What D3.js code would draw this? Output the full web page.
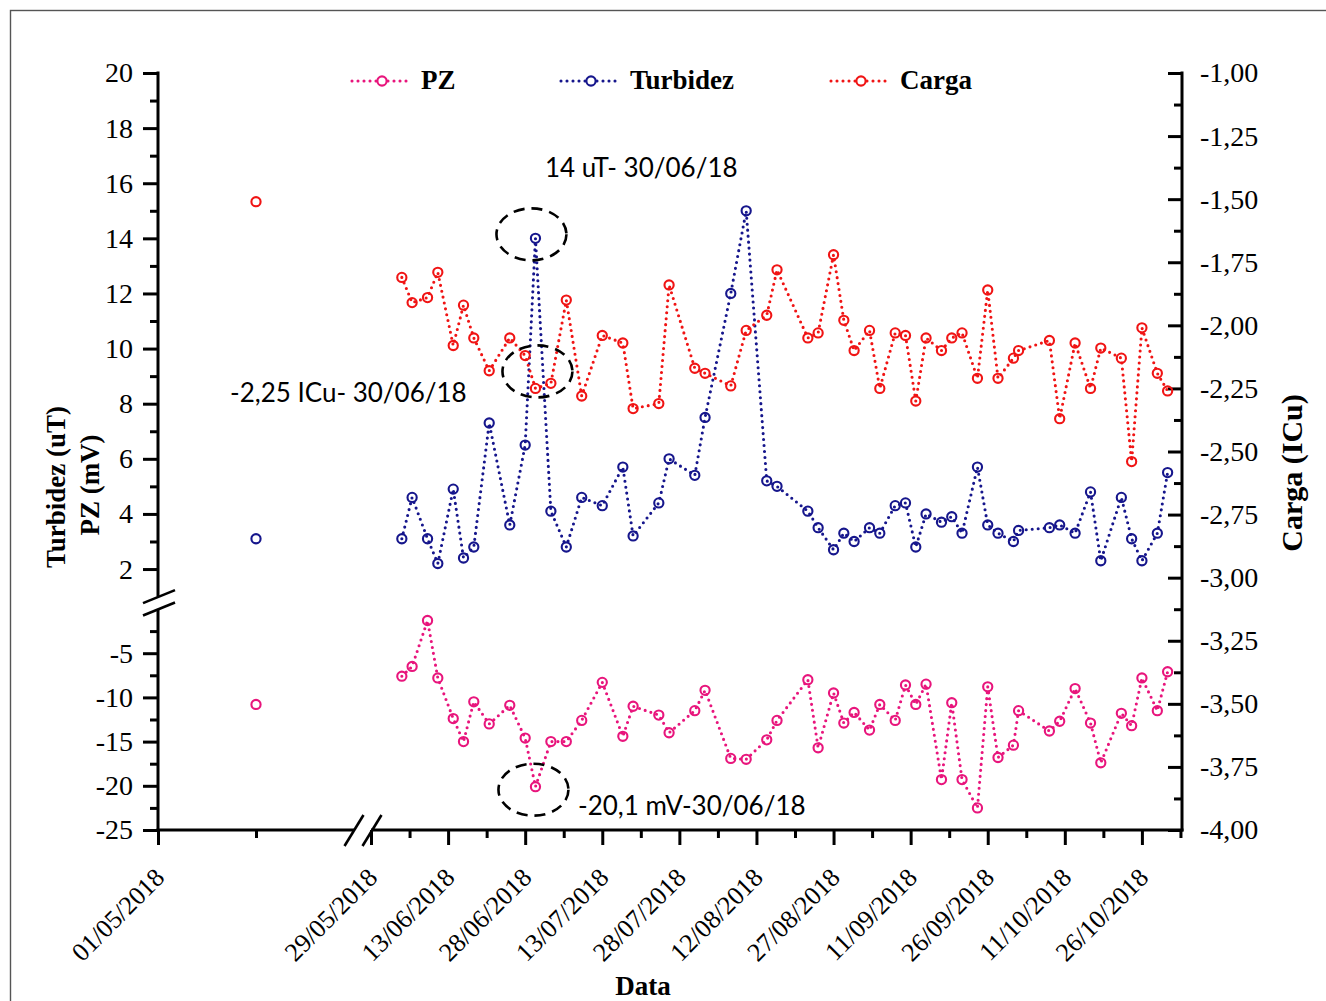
<!DOCTYPE html>
<html>
<head>
<meta charset="utf-8">
<script src="https://cdn.jsdelivr.net/npm/d3@7"></script>
<style>
  html, body { margin: 0; padding: 0; background: #fff; }
  svg { display: block; }
</style>
</head>
<body>
<svg id="chart" width="1326" height="1001"></svg>
<script>
// ---- data ---------------------------------------------------------------
// isolated reading before the gap, then the regular monitoring campaign
const dates = [
  "2018-05-15",
  "2018-06-04","2018-06-06","2018-06-09","2018-06-11","2018-06-14","2018-06-16","2018-06-18",
  "2018-06-21","2018-06-25","2018-06-28","2018-06-30","2018-07-03","2018-07-06","2018-07-09",
  "2018-07-13","2018-07-17","2018-07-19","2018-07-24","2018-07-26","2018-07-31","2018-08-02",
  "2018-08-07","2018-08-10","2018-08-14","2018-08-16","2018-08-22","2018-08-24","2018-08-27",
  "2018-08-29","2018-08-31","2018-09-03","2018-09-05","2018-09-08","2018-09-10","2018-09-12",
  "2018-09-14","2018-09-17","2018-09-19","2018-09-21","2018-09-24","2018-09-26","2018-09-28",
  "2018-10-01","2018-10-02","2018-10-08","2018-10-10","2018-10-13","2018-10-16","2018-10-18",
  "2018-10-22","2018-10-24","2018-10-26","2018-10-29","2018-10-31"
];

const pz = [
  -10.8,
  -7.6, -6.5, -1.3, -7.8, -12.4, -15.0, -10.5, -13.0, -10.9, -14.6,
  -20.1, -15.0, -15.0, -12.6, -8.3, -14.4, -11.0, -12.0, -14.0, -11.5,
  -9.2, -16.9, -17.0, -14.8, -12.6, -8.0, -15.7, -9.5, -12.9, -11.7,
  -13.7, -10.8, -12.6, -8.6, -10.8, -8.5, -19.3, -10.6, -19.3, -22.5,
  -8.8, -16.8, -15.4, -11.5, -13.8, -12.7, -9.0, -12.9, -17.4, -11.8,
  -13.2, -7.8, -11.5, -7.1
];

const turbidez = [
  3.1,
  3.1, 4.6, 3.1, 2.2, 4.9, 2.4, 2.8, 7.3, 3.6, 6.5,
  14.0, 4.1, 2.8, 4.6, 4.3, 5.7, 3.2, 4.4, 6.0, 5.4,
  7.5, 12.0, 15.0, 5.2, 5.0, 4.1, 3.5, 2.7, 3.3, 3.0,
  3.5, 3.3, 4.3, 4.4, 2.8, 4.0, 3.7, 3.9, 3.3, 5.7,
  3.6, 3.3, 3.0, 3.4, 3.5, 3.6, 3.3, 4.8, 2.3, 4.6,
  3.1, 2.3, 3.3, 5.5
];

const carga = [
  -1.51,
  -1.81, -1.91, -1.89, -1.79, -2.08, -1.92, -2.05, -2.18, -2.05, -2.12,
  -2.25, -2.23, -1.90, -2.28, -2.04, -2.07, -2.33, -2.31, -1.84, -2.17,
  -2.19, -2.24, -2.02, -1.96, -1.78, -2.05, -2.03, -1.72, -1.98, -2.10,
  -2.02, -2.25, -2.03, -2.04, -2.30, -2.05, -2.10, -2.05, -2.03, -2.21,
  -1.86, -2.21, -2.13, -2.10, -2.06, -2.37, -2.07, -2.25, -2.09, -2.13,
  -2.54, -2.01, -2.19, -2.26
];

const xTickDates = [
  "2018-05-01","2018-05-29","2018-06-13","2018-06-28","2018-07-13","2018-07-28",
  "2018-08-12","2018-08-27","2018-09-11","2018-09-26","2018-10-11","2018-10-26"
];
const leftTopTicks = [2, 4, 6, 8, 10, 12, 14, 16, 18, 20];
const leftBottomTicks = [-25, -20, -15, -10, -5];
const rightTicks = [-4, -3.75, -3.5, -3.25, -3, -2.75, -2.5, -2.25, -2, -1.75, -1.5, -1.25, -1];

const seriesNames = ["PZ", "Turbidez", "Carga"];
const colors = { PZ: "#e8157c", Turbidez: "#16168c", Carga: "#f01414" };

// ---- helpers --------------------------------------------------------------
const parse = d3.timeParse("%Y-%m-%d");
const fmtDate = d3.timeFormat("%d/%m/%Y");
const ptBR = d3.formatLocale({ decimal: ",", thousands: ".", grouping: [3], currency: ["", ""], minus: "-" });
const fmtRight = ptBR.format(".2f");
const fmtLeft = ptBR.format("d");
const DAY = 864e5;

const svg = d3.select("#chart");
svg.append("rect").attr("width", 1326).attr("height", 1001).attr("fill", "#fff");
svg.append("rect").attr("x", 10.5).attr("y", 10.5).attr("width", 1340).attr("height", 1010)
  .attr("fill", "none").attr("stroke", "#555").attr("stroke-width", 1.4);

// ---- scales (broken x axis and broken left y axis) -------------------------
const breakDate = parse("2018-05-29");
const xA = d3.scaleTime().domain([parse("2018-05-01"), breakDate]).range([158, 354]);
const xB = d3.scaleTime().domain([breakDate, new Date(+breakDate + 157.8 * DAY)]).range([371, 1182]);
const xPos = d => (d < breakDate ? xA(d) : xB(d));

const yTop = d3.scaleLinear().domain([1, 20]).range([596.6, 73]);
const yBot = d3.scaleLinear().domain([-25, 0]).range([830, 609]);
const yR = d3.scaleLinear().domain([-4, -1]).range([830, 73]);

const rows = dates.map((s, i) => ({
  date: parse(s), PZ: pz[i], Turbidez: turbidez[i], Carga: carga[i]
}));
const yFor = { PZ: yBot, Turbidez: yTop, Carga: yR };

const serif = "'Liberation Serif', 'Times New Roman', Times, serif";
const axisW = 3;

function styleAxis(g) {
  g.attr("font-family", null).attr("font-size", null);
  g.select(".domain").remove();
  g.selectAll(".tick line").attr("stroke", "#000").attr("stroke-width", axisW);
  g.selectAll(".tick text")
    .style("font-family", serif).style("font-size", "28px").attr("fill", "#000");
}

// ---- left axis, upper segment ----------------------------------------------
const minorTop = d3.range(3, 20, 2);
svg.append("g").attr("transform", "translate(158,0)")
  .call(d3.axisLeft(yTop).tickValues(leftTopTicks).tickSize(15).tickPadding(10)
    .tickSizeOuter(0).tickFormat(fmtLeft))
  .call(styleAxis);
svg.append("g").attr("transform", "translate(158,0)")
  .call(d3.axisLeft(yTop).tickValues(minorTop).tickSize(8).tickFormat(""))
  .call(styleAxis);
svg.append("line").attr("x1", 158).attr("x2", 158)
  .attr("y1", yTop.range()[1] - 1.5).attr("y2", yTop.range()[0])
  .attr("stroke", "#000").attr("stroke-width", axisW);

// ---- left axis, lower segment ----------------------------------------------
const minorBot = d3.range(-22.5, 0, 5);
svg.append("g").attr("transform", "translate(158,0)")
  .call(d3.axisLeft(yBot).tickValues(leftBottomTicks).tickSize(15).tickPadding(10)
    .tickSizeOuter(0).tickFormat(fmtLeft))
  .call(styleAxis);
svg.append("g").attr("transform", "translate(158,0)")
  .call(d3.axisLeft(yBot).tickValues(minorBot).tickSize(8).tickFormat(""))
  .call(styleAxis);
svg.append("line").attr("x1", 158).attr("x2", 158)
  .attr("y1", yBot.range()[1]).attr("y2", yBot.range()[0] + 1.5)
  .attr("stroke", "#000").attr("stroke-width", axisW);

// break marks on the left axis
[yTop.range()[0], yBot.range()[1]].forEach(cy => {
  svg.append("line").attr("x1", 143).attr("y1", cy + 6.5).attr("x2", 175).attr("y2", cy - 6.5)
    .attr("stroke", "#000").attr("stroke-width", 2.6);
});

// ---- right axis --------------------------------------------------------------
const minorR = d3.range(-3.875, -1, 0.25);
svg.append("g").attr("transform", "translate(1182,0)")
  .call(d3.axisRight(yR).tickValues(rightTicks).tickSize(-14).tickPadding(18).tickFormat(fmtRight))
  .call(styleAxis);
svg.append("g").attr("transform", "translate(1182,0)")
  .call(d3.axisRight(yR).tickValues(minorR).tickSize(-8).tickFormat(""))
  .call(styleAxis);
svg.append("line").attr("x1", 1182).attr("x2", 1182)
  .attr("y1", yR.range()[1] - 1.5).attr("y2", yR.range()[0] + 1.5)
  .attr("stroke", "#000").attr("stroke-width", axisW);

// ---- bottom axis (two segments) ---------------------------------------------
const xMajor = xTickDates.map(parse);
const majA = xMajor.filter(d => d < breakDate);
const majB = xMajor.filter(d => d >= breakDate);
const minA = [parse("2018-05-15")];
const minB = d3.range(7.5, 158, 15).map(k => new Date(+breakDate + k * DAY));

function bottom(scale, major, minor) {
  svg.append("g").attr("transform", "translate(0,830)")
    .call(d3.axisBottom(scale).tickValues(major).tickSize(15).tickFormat(""))
    .call(styleAxis);
  svg.append("g").attr("transform", "translate(0,830)")
    .call(d3.axisBottom(scale).tickValues(minor).tickSize(8).tickFormat(""))
    .call(styleAxis);
}
bottom(xA, majA, minA);
bottom(xB, majB, minB);

svg.append("line").attr("x1", xA.range()[0] - 1.5).attr("x2", xA.range()[1])
  .attr("y1", 830).attr("y2", 830).attr("stroke", "#000").attr("stroke-width", axisW);
svg.append("line").attr("x1", xB.range()[0]).attr("x2", xB.range()[1] + 1.5)
  .attr("y1", 830).attr("y2", 830).attr("stroke", "#000").attr("stroke-width", axisW);

// break marks on the bottom axis
[xA.range()[1], xB.range()[0] + 1].forEach(cx => {
  svg.append("line").attr("x1", cx - 9.5).attr("y1", 846).attr("x2", cx + 9.5).attr("y2", 815)
    .attr("stroke", "#000").attr("stroke-width", 2.6);
});

// rotated date labels
svg.append("g").selectAll("text").data(xMajor).join("text")
  .attr("transform", d => `translate(${xPos(d) + 8},879) rotate(-45)`)
  .attr("text-anchor", "end")
  .style("font-family", serif).style("font-size", "26px").attr("fill", "#000")
  .text(d => fmtDate(d));

// ---- axis titles -------------------------------------------------------------
const title = (txt, x, y, rot, size) => svg.append("text")
  .attr("transform", `translate(${x},${y}) rotate(${rot})`)
  .attr("text-anchor", "middle").style("font-family", serif)
  .attr("font-weight", "bold").style("font-size", size + "px").attr("fill", "#000").text(txt);
title("Turbidez (uT)", 65, 487, -90, 27);
title("PZ (mV)", 99, 485, -90, 27);
title("Carga (ICu)", 1302, 473, -90, 30);
title("Data", 643, 995, 0, 27);

// ---- series -------------------------------------------------------------------
const plot = svg.append("g");
seriesNames.forEach(name => {
  const y = yFor[name];
  const after = rows.filter(r => r.date >= breakDate);
  plot.append("path")
    .datum(after)
    .attr("fill", "none")
    .attr("stroke", colors[name])
    .attr("stroke-width", 3.1)
    .attr("stroke-linecap", "round")
    .attr("stroke-dasharray", "0 6")
    .attr("d", d3.line().x(r => xPos(r.date)).y(r => y(r[name])));
  plot.append("g").selectAll("circle").data(rows).join("circle")
    .attr("cx", r => xPos(r.date))
    .attr("cy", r => y(r[name]))
    .attr("r", 4.6)
    .attr("fill", "none")
    .attr("stroke", colors[name])
    .attr("stroke-width", 2.1);
});

// ---- legend ----------------------------------------------------------------------
const legendItems = [
  { name: "PZ", x: 352 },
  { name: "Turbidez", x: 561 },
  { name: "Carga", x: 831 }
];
const lg = svg.append("g");
legendItems.forEach(it => {
  lg.append("line").attr("x1", it.x).attr("x2", it.x + 58).attr("y1", 81).attr("y2", 81)
    .attr("stroke", colors[it.name]).attr("stroke-width", 3.1)
    .attr("stroke-linecap", "round").attr("stroke-dasharray", "0 6");
  lg.append("circle").attr("cx", it.x + 30).attr("cy", 81).attr("r", 4.6)
    .attr("fill", "#fff").attr("stroke", colors[it.name]).attr("stroke-width", 2.1);
  lg.append("text").attr("x", it.x + 69).attr("y", 89)
    .style("font-family", serif).attr("font-weight", "bold").style("font-size", "27px")
    .attr("fill", "#000").text(it.name);
});

// ---- annotations for 30/06/2018 -----------------------------------------------------
const peak = rows.find(r => fmtDate(r.date) === "30/06/2018");
const sans = "Lato, 'Open Sans', sans-serif";
const ann = svg.append("g");
const ellipse = (cx, cy) => ann.append("ellipse")
  .attr("cx", cx).attr("cy", cy).attr("rx", 35).attr("ry", 26)
  .attr("fill", "none").attr("stroke", "#000").attr("stroke-width", 2.6)
  .attr("stroke-dasharray", "11 7");
const px = xPos(peak.date);
ellipse(px - 4, yTop(peak.Turbidez) - 4);
ellipse(px + 2, yR(peak.Carga) - 17);
ellipse(px - 2, yBot(peak.PZ) + 3);

const note = (txt, x, y) => ann.append("text").attr("x", x).attr("y", y)
  .style("font-family", sans).style("font-size", "26px").attr("fill", "#000").text(txt);
note("14 uT- 30/06/18", 545, 177);
note("-2,25 ICu- 30/06/18", 230, 402);
note("-20,1 mV-30/06/18", 578, 815);
</script>
</body>
</html>
